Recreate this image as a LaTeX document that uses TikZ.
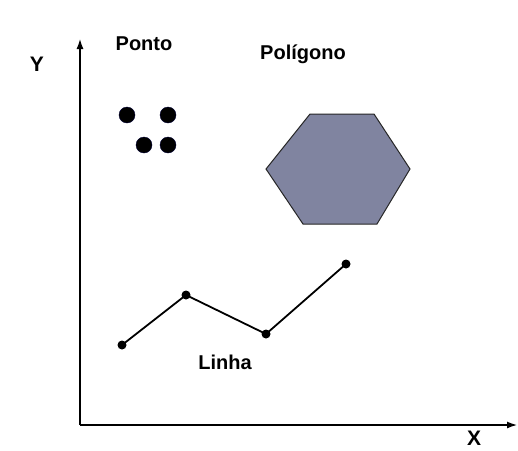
\documentclass[tikz,border=0pt]{standalone}
\usepackage{fontspec}
\setmainfont{Liberation Sans}
\usetikzlibrary{arrows.meta}

\tikzset{
  rotulo/.style={font=\fontsize{20}{24}\selectfont\bfseries},
  eixo/.style={font=\fontsize{21}{24}\selectfont\bfseries, inner sep=1pt},
  ponto/.style={circle, fill=black, draw=black!80!blue, inner sep=0pt, minimum size=16pt},
  vertice/.style={circle, fill=black, inner sep=0pt, minimum size=9pt},
}

\begin{document}
\begin{tikzpicture}[x=1pt, y=-1pt]
    % --- 定义画布 ---
    \useasboundingbox[fill=white] (0,0) rectangle (518,450);

    % --- 绘制坐标轴 ---
    \coordinate (O) at (80,425);
    \coordinate (Ytopo) at (80,38);
    \coordinate (Xfim) at (518,425);
    \draw[-{Latex[length=11pt,width=7pt]}, line width=2.2pt] (O) -- (Ytopo);
    \draw[-{Latex[length=11pt,width=7pt]}, line width=2.2pt] (O) -- (Xfim);
    \node[eixo] (Y) at (37,64) {Y};
    \node[eixo] (X) at (474,438) {X};

    % --- 点 (Ponto) ---
    \node[rotulo] (lponto) at (144,44) {Ponto};
    \node[ponto] (a1) at (127,115) {};
    \node[ponto] (a2) at (168,115) {};
    \node[ponto] (a3) at (144,145) {};
    \node[ponto] (a4) at (168,145) {};

    % --- 多边形 (Polígono) ---
    \node[rotulo] (lpoligono) at (303,54) {Polígono};
    \fill[fill={rgb,255:red,128;green,132;blue,160}, draw=black!85, line width=1pt]
        (310,114) -- (374,114) -- (410,169) -- (377,224) -- (303,224) -- (266,169) -- cycle;

    % --- 线 (Linha) ---
    \node[vertice] (p1) at (122,345) {};
    \node[vertice] (p2) at (186,295) {};
    \node[vertice] (p3) at (266,334) {};
    \node[vertice] (p4) at (346,264) {};
    \draw[line width=1.8pt] (p1.center) -- (p2.center) -- (p3.center) -- (p4.center);
    \node[rotulo] (llinha) at (225,362) {Linha};

\end{tikzpicture}
\end{document}
